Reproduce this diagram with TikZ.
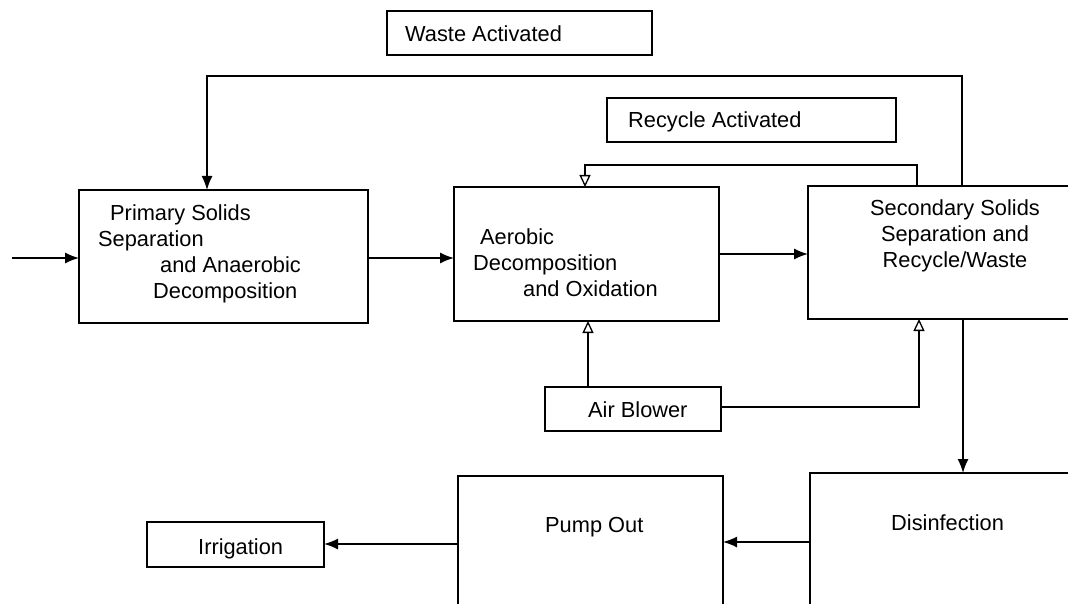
\documentclass[tikz,border=0pt]{standalone}
\usepackage{fontspec}
\setmainfont{Liberation Sans}
\usetikzlibrary{arrows.meta}
\begin{document}
\begin{tikzpicture}[x=1pt,y=-1pt,
 box/.style={draw,line width=1.5pt,anchor=north west,inner sep=0pt,outer sep=0pt},
 txt/.style={inner sep=0pt,font=\fontsize{21.8}{25.7}\selectfont},
 ln/.style={line width=1.5pt},
 fa/.style={ln,-{Latex[length=14pt,width=11pt]}},
 oa/.style={ln,-{Triangle[open,length=12pt,width=11pt,line width=1.3pt]}}]
\path[use as bounding box,clip] (0,0) rectangle (1068,604);
\fill[white] (0,0) rectangle (1068,604);
% boxes
\node[box,minimum width=289pt,minimum height=133pt] (prim) at (79,190) {};
\node[box,minimum width=265pt,minimum height=134pt] (aer) at (454,187) {};
\node[box,minimum width=300pt,minimum height=133pt] (sec) at (808,186) {};
\node[box,minimum width=265pt,minimum height=44pt] (waste) at (387,11) {};
\node[box,minimum width=289pt,minimum height=44pt] (recyc) at (607,98) {};
\node[box,minimum width=176pt,minimum height=44pt] (air) at (545,387) {};
\node[box,minimum width=177pt,minimum height=45pt] (irr) at (147,522) {};
\node[box,minimum width=265pt,minimum height=200pt] (pump) at (458,476) {};
\node[box,minimum width=300pt,minimum height=200pt] (dis) at (810,473) {};
% texts (multi-line: base anchor = last line baseline)
\node[txt,anchor=base west,align=left] (primT) at (98,298)
 {\hspace*{12pt}Primary Solids\\Separation\\\hspace*{62pt}and Anaerobic\\\hspace*{55pt}Decomposition};
\node[txt,anchor=base west,align=left] (aerT) at (473,296)
 {\hspace*{7pt}Aerobic\\Decomposition\\\hspace*{50pt}and Oxidation};
\node[txt,anchor=base,align=center] (secT) at (955,267)
 {Secondary Solids\\Separation and\\Recycle/Waste};
\node[txt,anchor=base west] (wasteT) at (405,42) {Waste Activated};
\node[txt,anchor=base west] (recycT) at (628,128) {Recycle Activated};
\node[txt,anchor=base west] (airT) at (588,417) {Air Blower};
\node[txt,anchor=base west] (irrT) at (198,554) {Irrigation};
\node[txt,anchor=base west] (pumpT) at (545,532) {Pump Out};
\node[txt,anchor=base west] (disT) at (891,530) {Disinfection};
% connectors
\coordinate (in) at (12,258);
\draw[fa] (in) -- (in -| prim.west);
\coordinate (m1) at (0,258);
\draw[fa] (prim.east |- m1) -- (aer.west |- m1);
\coordinate (m2) at (0,254);
\draw[fa] (aer.east |- m2) -- (sec.west |- m2);
\coordinate (r1) at (917,165);
\coordinate (r2) at (585,165);
\draw[oa] (r1 |- sec.north) -- (r1) -- (r2) -- (r2 |- aer.north);
\coordinate (w1) at (962,76);
\coordinate (w2) at (207,76);
\draw[fa] (w1 |- sec.north) -- (w1) -- (w2) -- (w2 |- prim.north);
\coordinate (a1) at (588,0);
\draw[oa] (air.north -| a1) -- (aer.south -| a1);
\coordinate (a2) at (919,407);
\draw[oa] (air.east |- a2) -- (a2) -- (a2 |- sec.south);
\coordinate (d1) at (963,0);
\draw[fa] (sec.south -| d1) -- (dis.north -| d1);
\coordinate (p1) at (0,542);
\draw[fa] (dis.west |- p1) -- (pump.east |- p1);
\coordinate (p2) at (0,544);
\draw[fa] (pump.west |- p2) -- (irr.east |- p2);
\end{tikzpicture}
\end{document}
